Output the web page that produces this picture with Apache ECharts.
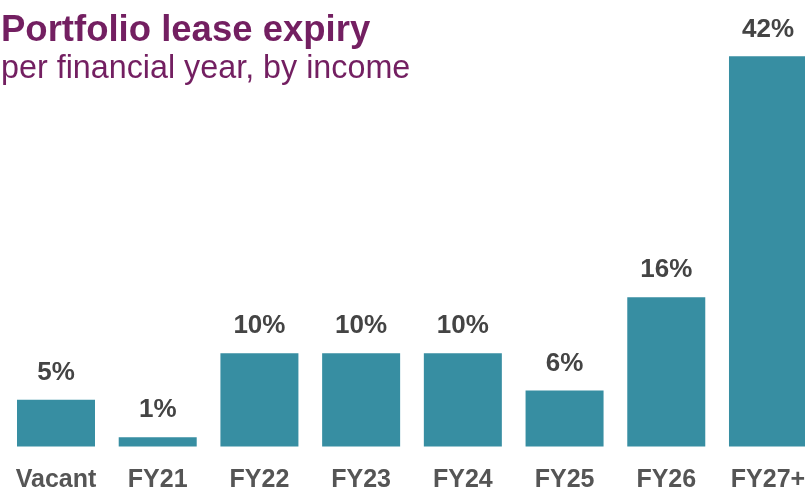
<!DOCTYPE html>
<html>
<head>
<meta charset="utf-8">
<style>html,body{margin:0;padding:0;background:#fff;overflow:hidden;width:805px;height:494px;}#c{width:822px;height:494px;}</style>
<script src="https://cdn.jsdelivr.net/npm/echarts@6/dist/echarts.min.js"></script>
</head>
<body>
<div id="c"></div>
<script>
const titleText = 'Portfolio lease expiry';
const subtitleText = 'per financial year, by income';
const categories = ['Vacant', 'FY21', 'FY22', 'FY23', 'FY24', 'FY25', 'FY26', 'FY27+'];
const values = [5, 1, 10, 10, 10, 6, 16, 41.8];

const chart = echarts.init(document.getElementById('c'), null, {renderer: 'canvas'});
chart.setOption({
  animation: false,
  backgroundColor: '#ffffff',
  title: [
    {text: titleText, left: -4, top: 7,
     textStyle: {fontFamily: 'Liberation Sans, Arial, sans-serif', fontWeight: 'bold', fontSize: 36.5, color: '#731f61'}},
    {text: subtitleText, left: -4, top: 48,
     textStyle: {fontFamily: 'Liberation Sans, Arial, sans-serif', fontWeight: 'normal', fontSize: 32.3, color: '#731f61'}}
  ],
  grid: {left: 5.14, width: 813.7, top: 26.5, bottom: 47.5, containLabel: false},
  xAxis: {
    type: 'category', data: categories, boundaryGap: true,
    axisLine: {show: false}, axisTick: {show: false},
    axisLabel: {margin: 21, color: '#555555', fontSize: 25, fontWeight: 'bold',
      fontFamily: 'Liberation Sans, Arial, sans-serif', interval: 0}
  },
  yAxis: {type: 'value', min: 0, max: 45, show: false, splitLine: {show: false}},
  series: [{
    type: 'bar', data: values, barWidth: 78,
    itemStyle: {color: '#378ea2'},
    label: {show: true, position: 'top', distance: 14,
      formatter: p => Math.round(p.value) + '%',
      color: '#444444', fontSize: 26, fontWeight: 'bold',
      fontFamily: 'Liberation Sans, Arial, sans-serif'}
  }]
});
</script>
</body>
</html>
